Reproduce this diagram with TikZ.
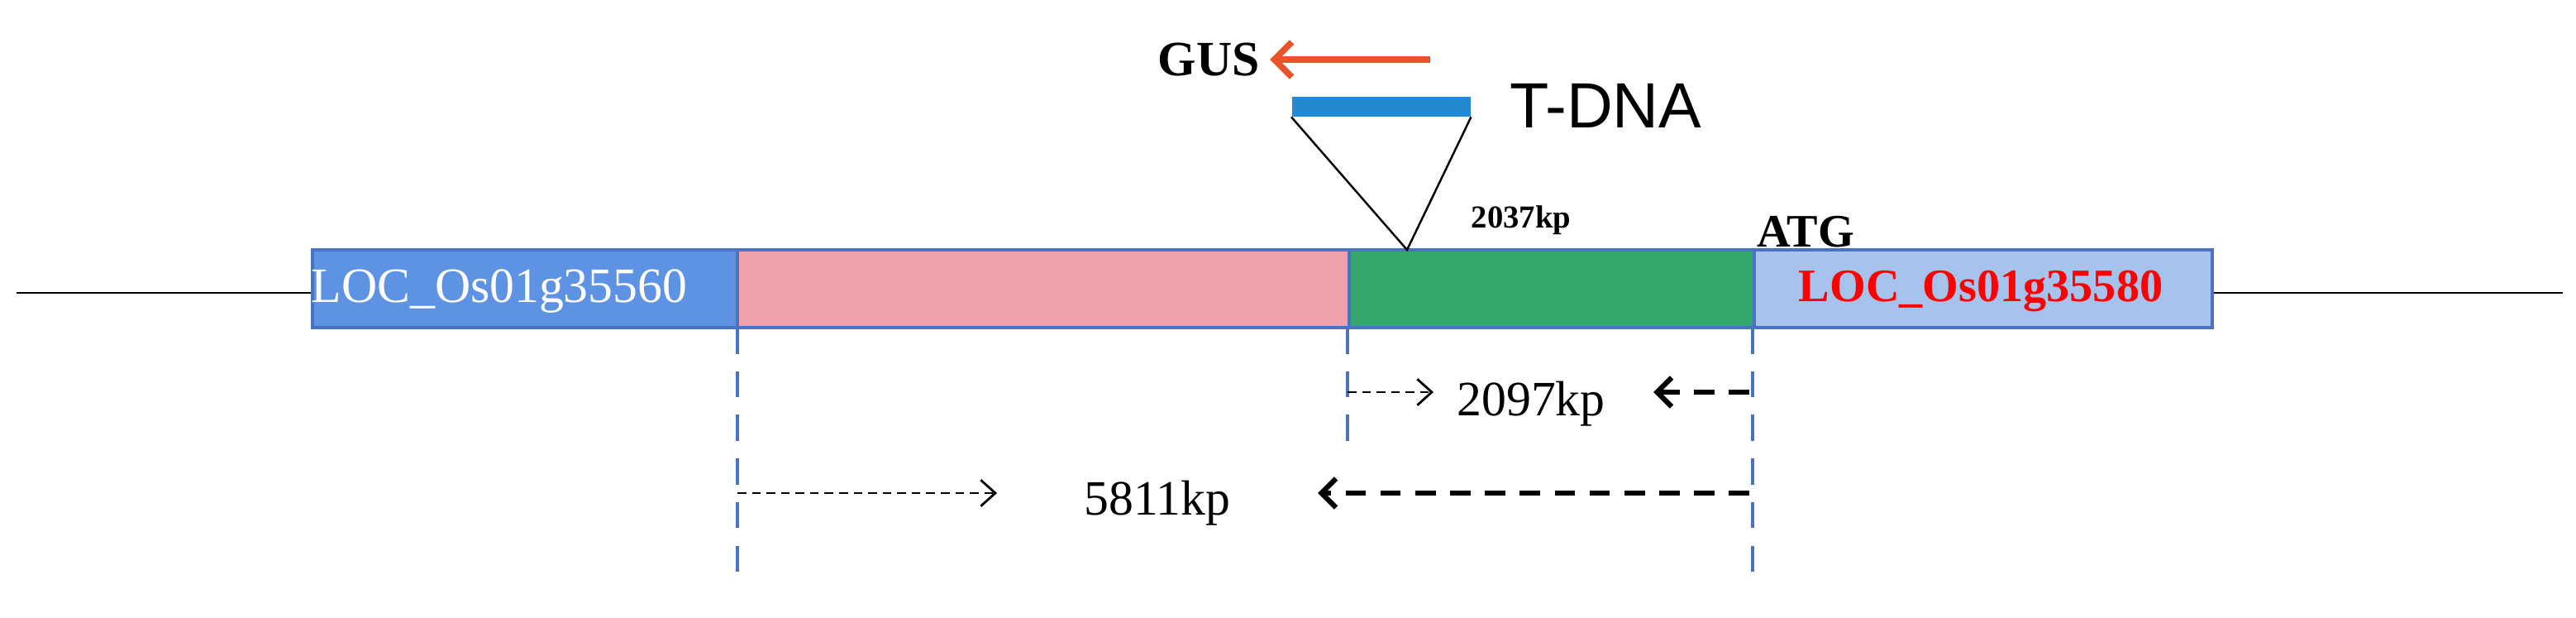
\documentclass[tikz,border=0pt]{standalone}
\usepackage{fontspec}
\setmainfont{Liberation Serif}
\newfontfamily\sansf{Liberation Sans}
\usetikzlibrary{arrows.meta}
\definecolor{bxA}{HTML}{5E93E3}
\definecolor{bxP}{HTML}{F0A1AA}
\definecolor{bxG}{HTML}{35A86E}
\definecolor{bxL}{HTML}{A6C3EE}
\definecolor{bord}{HTML}{4A72BE}
\definecolor{gus}{HTML}{EA5229}
\definecolor{tbar}{HTML}{2289D2}
\begin{document}
\begin{tikzpicture}[x=0.02cm,y=-0.02cm,
  box/.style={draw=bord,line width=1.2pt,minimum height=0.94cm,inner sep=0},
  vdash/.style={draw=bord,line width=1.3pt,dash pattern=on 9pt off 6pt},
  thin/.style={densely dashed,line width=0.8pt,-{Straight Barb[length=5pt,width=9pt]}},
  thick/.style={dash pattern=on 7pt off 5pt,line width=1.8pt,-{Straight Barb[length=5pt,width=10pt]}}]
\useasboundingbox (0,0) rectangle (1558,373);
\coordinate (L0) at (10,177); \coordinate (L1) at (1550,177);
\draw[line width=0.8pt] (L0) -- (L1);
\node[box,fill=bxA,minimum width=257*0.02cm,anchor=west] (b1) at (188,174.5) {};
\node[box,fill=bxP,minimum width=370*0.02cm,anchor=west] (b2) at (445,174.5) {};
\node[box,fill=bxG,minimum width=245*0.02cm,anchor=west] (b3) at (815,174.5) {};
\node[box,fill=bxL,minimum width=277*0.02cm,anchor=west] (b4) at (1060,174.5) {};
\node[text=white,font=\fontsize{17}{20}\selectfont] (t1) at (302,176) {LOC\_Os01g35560};
\node[text=red,font=\bfseries\fontsize{16}{20}\selectfont] (t4) at (1198,176) {LOC\_Os01g35580};
\node[font=\bfseries\fontsize{16}{20}\selectfont] (atg) at (1092,140) {ATG};
\node[font=\bfseries\fontsize{11}{13}\selectfont] (n2037) at (920,133) {2037kp};
% T-DNA
\node[fill=tbar,minimum width=108*0.02cm,minimum height=0.24cm,inner sep=0,anchor=north west] (tb) at (781,58) {};
\coordinate (ins) at (851,151);
\draw[line width=0.7pt] (tb.south west) -- (ins) -- (tb.south east);
\node[font=\sansf\fontsize{22}{26}\selectfont,anchor=west] (td) at (907,64) {T-DNA};
\node[font=\bfseries\fontsize{17}{20}\selectfont,anchor=east] (g) at (768,36) {GUS};
\coordinate (gs) at (865,36);
\draw[gus,line width=2.2pt,-{Straight Barb[length=6pt,width=12pt]}] (gs) -- (g.east);
% verticals
\coordinate (v1a) at (446,198); \coordinate (v1b) at (446,350);
\coordinate (v2a) at (815,198); \coordinate (v2b) at (815,268);
\coordinate (v3a) at (1060,198); \coordinate (v3b) at (1060,350);
\draw[vdash] (v1a) -- (v1b);
\draw[vdash] (v2a) -- (v2b);
\draw[vdash] (v3a) -- (v3b);
% 2097
\node[font=\fontsize{17}{20}\selectfont] (n2097) at (926,244) {2097kp};
\coordinate (a1) at (815,237); \coordinate (a1e) at (867,237);
\coordinate (a2) at (1058,237); \coordinate (a2e) at (1000,237);
\draw[thin] (a1) -- (a1e);
\draw[thick] (a2) -- (a2e);
% 5811
\node[font=\fontsize{17}{20}\selectfont] (n5811) at (700,304) {5811kp};
\coordinate (c1) at (446,298); \coordinate (c1e) at (603,298);
\coordinate (c2) at (1058,298); \coordinate (c2e) at (797,298);
\draw[thin] (c1) -- (c1e);
\draw[thick] (c2) -- (c2e);
\end{tikzpicture}
\end{document}
